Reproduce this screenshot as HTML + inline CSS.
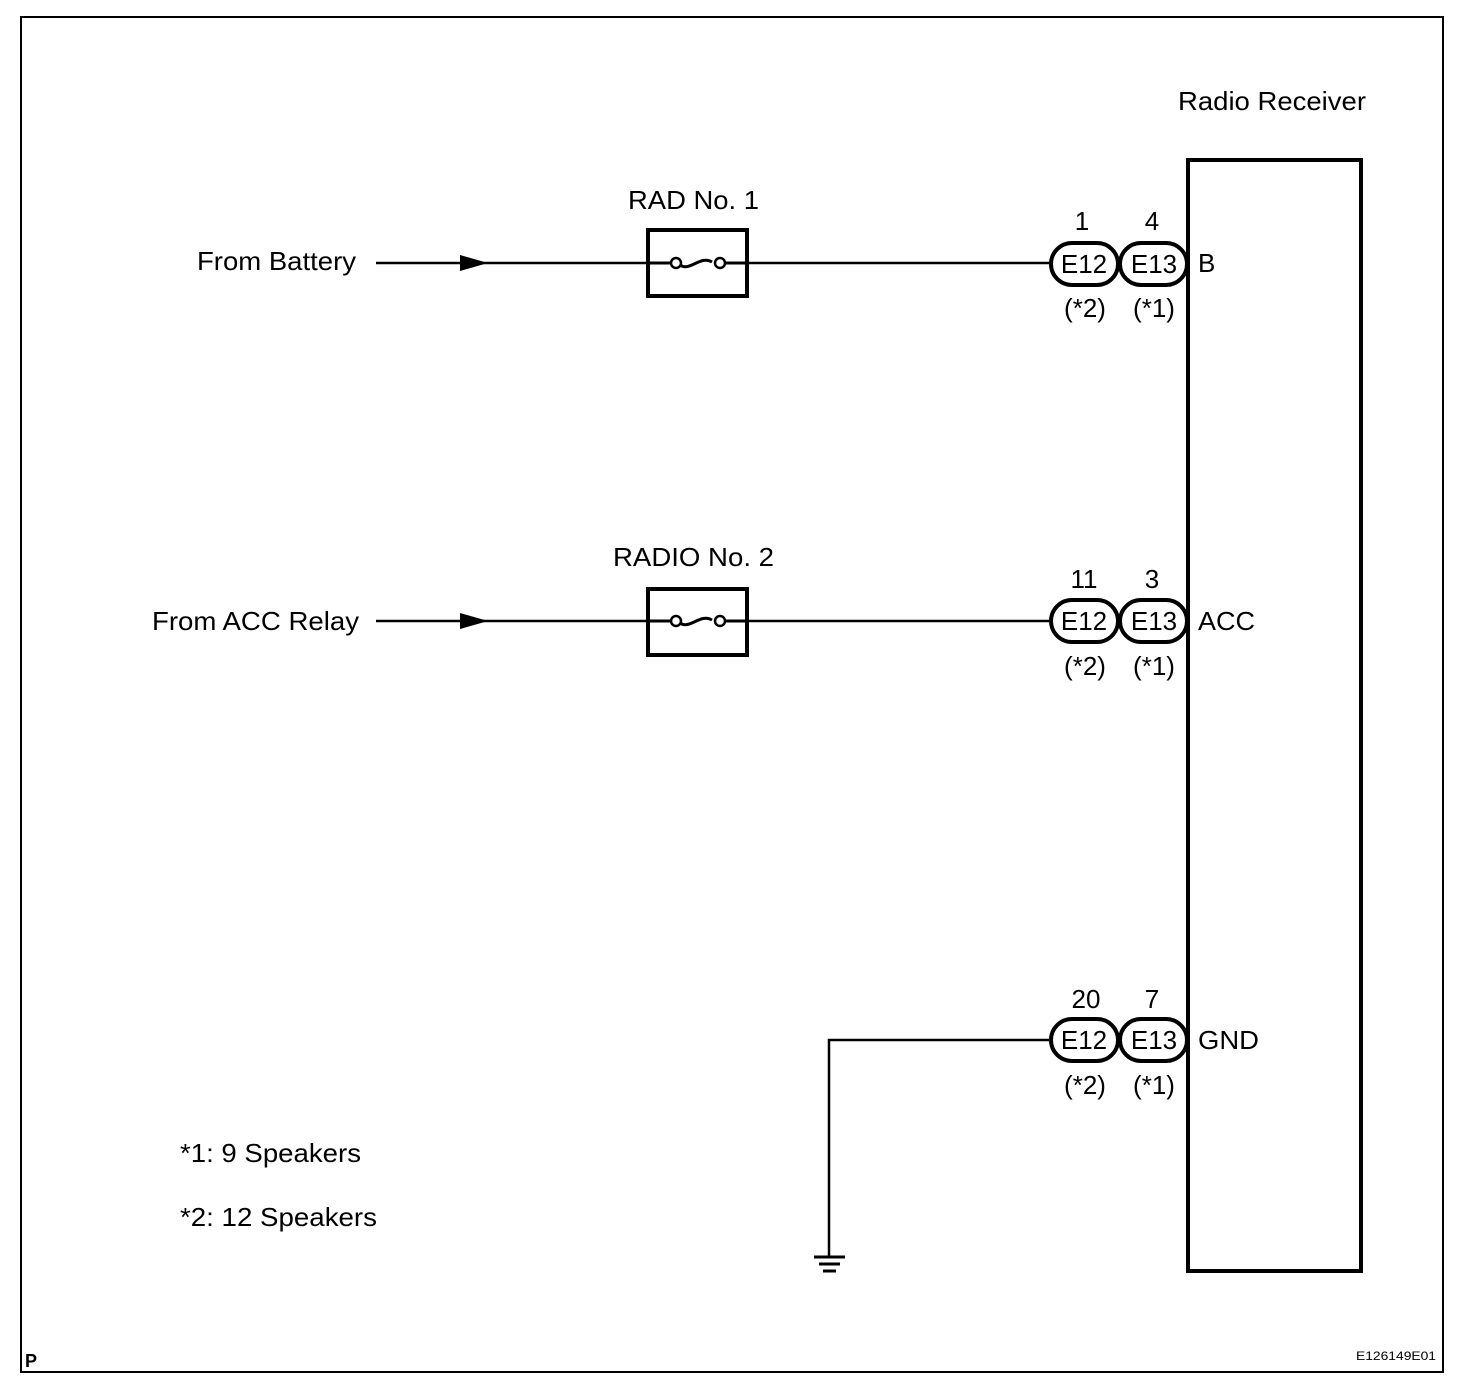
<!DOCTYPE html>
<html><head><style>body{margin:0;background:#fff}</style></head><body>
<svg width="1472" height="1388" xmlns="http://www.w3.org/2000/svg" font-family="Liberation Sans, Arial, sans-serif" fill="#000">
<rect x="21" y="17" width="1422" height="1355" fill="none" stroke="#000" stroke-width="2"/>
<rect x="1188" y="160" width="173" height="1111" fill="none" stroke="#000" stroke-width="4"/>
<text x="1178" y="110" font-size="26" textLength="188" lengthAdjust="spacingAndGlyphs">Radio Receiver</text>
<g stroke="#000" stroke-width="2.5" fill="none">
<line x1="376" y1="263" x2="1050" y2="263"/>
<line x1="376" y1="621" x2="1050" y2="621"/>
<polyline points="1050,1040 829,1040 829,1257"/>
</g>
<g stroke="#000" stroke-width="3">
<line x1="814" y1="1257" x2="845" y2="1257"/>
<line x1="819" y1="1264" x2="840" y2="1264"/>
<line x1="823" y1="1271" x2="836" y2="1271"/>
</g>
<polygon points="460,255 488,263 460,271"/>
<polygon points="460,613 488,621 460,629"/>
<g stroke="#000" fill="#fff">
<rect x="648" y="230" width="99" height="66" stroke-width="4"/>
<rect x="648" y="589" width="99" height="66" stroke-width="4"/>
</g>
<g stroke="#000" stroke-width="3" fill="none">
<line x1="648" y1="263" x2="671" y2="263"/><line x1="725" y1="263" x2="747" y2="263"/>
<path d="M680,265 C690,272 700,255 712,262"/>
<line x1="648" y1="621" x2="671" y2="621"/><line x1="725" y1="621" x2="747" y2="621"/>
<path d="M680,623 C690,630 700,613 712,620"/>
</g>
<g stroke="#000" stroke-width="2.5" fill="#fff">
<circle cx="676" cy="263" r="5"/><circle cx="720" cy="263" r="5"/>
<circle cx="676" cy="621" r="5"/><circle cx="720" cy="621" r="5"/>
</g>
<g font-size="26">
<text x="197" y="270" textLength="159" lengthAdjust="spacingAndGlyphs">From Battery</text>
<text x="152" y="630" textLength="207" lengthAdjust="spacingAndGlyphs">From ACC Relay</text>
<text x="628" y="209" textLength="131" lengthAdjust="spacingAndGlyphs">RAD No. 1</text>
<text x="613" y="566" textLength="161" lengthAdjust="spacingAndGlyphs">RADIO No. 2</text>
<text x="180" y="1162" textLength="181" lengthAdjust="spacingAndGlyphs">*1: 9 Speakers</text>
<text x="180" y="1226" textLength="197" lengthAdjust="spacingAndGlyphs">*2: 12 Speakers</text>
<text x="1198" y="272">B</text>
<text x="1198" y="630" textLength="57" lengthAdjust="spacingAndGlyphs">ACC</text>
<text x="1198" y="1049" textLength="61" lengthAdjust="spacingAndGlyphs">GND</text>
</g>
<g stroke="#000" stroke-width="4" fill="#fff">
<rect x="1051" y="243" width="67" height="42" rx="21"/>
<rect x="1120" y="243" width="67" height="42" rx="21"/>
<rect x="1051" y="600" width="67" height="42" rx="21"/>
<rect x="1120" y="600" width="67" height="42" rx="21"/>
<rect x="1051" y="1019" width="67" height="42" rx="21"/>
<rect x="1120" y="1019" width="67" height="42" rx="21"/>
</g>
<g font-size="26" text-anchor="middle">
<text x="1084" y="273">E12</text><text x="1154" y="273">E13</text>
<text x="1084" y="630">E12</text><text x="1154" y="630">E13</text>
<text x="1084" y="1049">E12</text><text x="1154" y="1049">E13</text>
<text x="1082" y="230">1</text><text x="1152" y="230">4</text>
<text x="1084" y="588">11</text><text x="1152" y="588">3</text>
<text x="1086" y="1008">20</text><text x="1152" y="1008">7</text>
<text x="1085" y="317">(*2)</text><text x="1154" y="317">(*1)</text>
<text x="1085" y="675">(*2)</text><text x="1154" y="675">(*1)</text>
<text x="1085" y="1094">(*2)</text><text x="1154" y="1094">(*1)</text>
</g>
<text x="25" y="1367" font-size="18" font-weight="bold">P</text>
<text x="1356" y="1360" font-size="12" textLength="80" lengthAdjust="spacingAndGlyphs">E126149E01</text>
</svg>
</body></html>
